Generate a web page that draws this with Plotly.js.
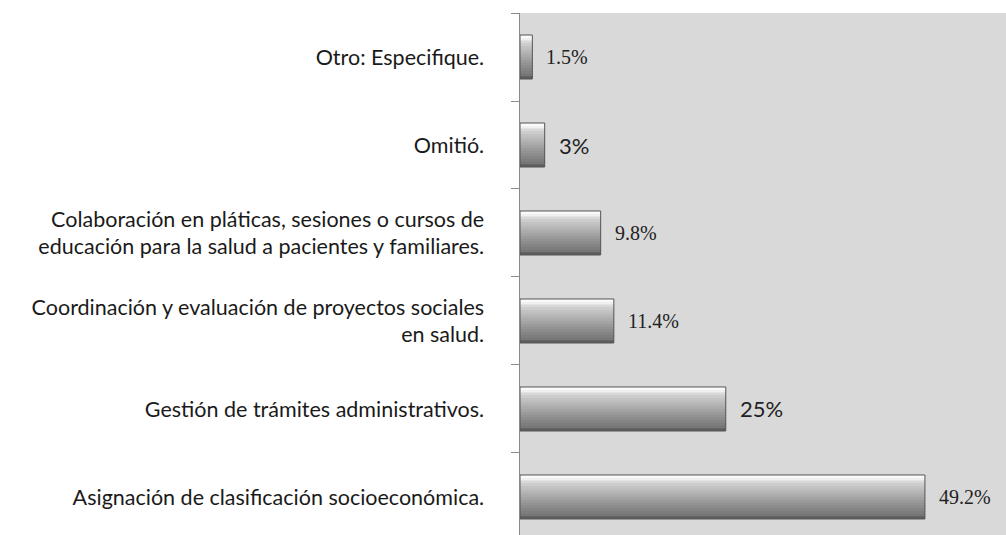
<!DOCTYPE html>
<html>
<head>
<meta charset="utf-8">
<script src="https://cdn.plot.ly/plotly-3.0.1.min.js"></script>
<style>html,body{margin:0;padding:0;background:#fff;}#chart{width:1006px;height:535px;}</style>
</head>
<body>
<div id="chart"></div>
<script>
// Data (bottom to top)
const categories = [
  "Asignación de clasificación socioeconómica.",
  "Gestión de trámites administrativos.",
  "Coordinación y evaluación de proyectos sociales<br>en salud.",
  "Colaboración en pláticas, sesiones o cursos de<br>educación para la salud a pacientes y familiares.",
  "Omitió.",
  "Otro: Especifique."
];
const values = [49.2, 25, 11.4, 9.8, 3, 1.5];
const valueLabels = ["49.2%", "25%", "11.4%", "9.8%", "3%", "1.5%"];

// Styles
const labelFonts = ["Liberation Serif", "Lato", "Liberation Serif", "Liberation Serif", "Lato", "Liberation Serif"];
const labelSizes = [20, 22, 20, 20, 22, 20];
const stripColors = ["#fbfbfb","#f0f0f0","#d8d8d8","#cccccc","#c3c3c3","#bbbbbb","#b3b3b3","#ababab",
                     "#a3a3a3","#9b9b9b","#939393","#8c8c8c","#858585","#7e7e7e","#777777","#5e5e5e"];
const barWidth = 0.5;

const traces = [];
const N = stripColors.length;
const step = barWidth / N;
for (let i = 0; i < N; i++) {
  const topEdge = barWidth / 2 - i * step;
  const ext = (i < N - 1) ? step * 0.5 : 0;
  const w = step + ext;
  traces.push({
    type: "bar", orientation: "h",
    x: values, y: categories,
    width: w, offset: topEdge - w,
    marker: {color: stripColors[i], line: {width: 0}},
    hoverinfo: "skip", showlegend: false
  });
}
traces.push({
  type: "bar", orientation: "h",
  x: values, y: categories,
  width: barWidth, offset: -barWidth / 2,
  marker: {color: "rgba(0,0,0,0)", line: {color: "#555555", width: 1}},
  hoverinfo: "skip", showlegend: false
});

const annotations = values.map((v, i) => ({
  x: v, y: categories[i], xref: "x", yref: "y",
  text: valueLabels[i], showarrow: false,
  xanchor: "left", yanchor: "middle", xshift: 12,
  font: {family: labelFonts[i], size: labelSizes[i], color: "#222222"}
}));

const layout = {
  width: 1006, height: 535,
  margin: {l: 520, r: 0, t: 13, b: 0, pad: 0},
  paper_bgcolor: "#ffffff",
  plot_bgcolor: "#d9d9d9",
  barmode: "overlay",
  showlegend: false,
  xaxis: {range: [0, 59.05], showticklabels: false, showgrid: false, zeroline: false, ticks: "", showline: false, fixedrange: true},
  yaxis: {
    type: "category", range: [-0.432, 5.5],
    showline: true, linecolor: "#8a8a8a", linewidth: 1.5,
    ticks: "outside", ticklen: 8, tickcolor: "#8a8a8a", tickwidth: 1,
    tickson: "boundaries", showgrid: false, zeroline: false,
    ticklabelstandoff: 30,
    tickfont: {family: "Lato", size: 21.5, color: "#1a1a1a"},
    automargin: false, fixedrange: true
  },
  annotations: annotations
};

Plotly.newPlot("chart", traces, layout, {displayModeBar: false, staticPlot: true});
</script>
</body>
</html>
